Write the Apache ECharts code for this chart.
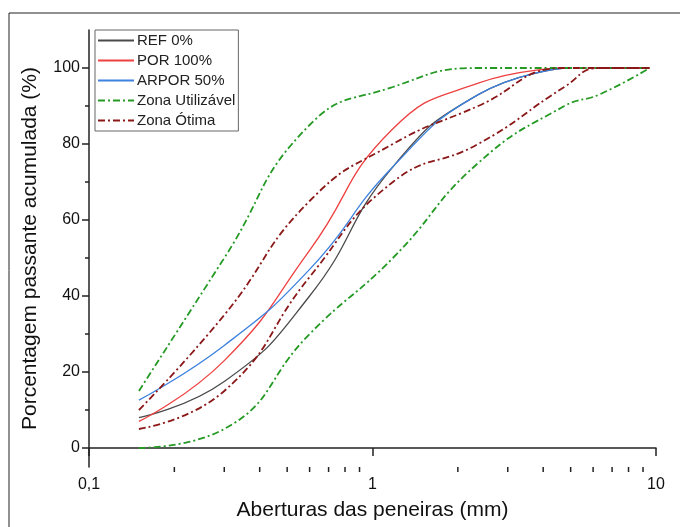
<!DOCTYPE html>
<html>
<head>
<meta charset="utf-8">
<script src="https://cdn.jsdelivr.net/npm/echarts@6/dist/echarts.min.js"></script>
<style>
  html, body { margin: 0; padding: 0; background: #fff; }
  #chart { width: 680px; height: 527px; }
</style>
</head>
<body>
<div id="chart"></div>
<script>
// aberturas das peneiras (mm)
const sieves = [0.15, 0.3, 0.6, 1.18, 2.36, 4.75];
const limitSieves = [0.15, 0.3, 0.6, 1.18, 2.36, 4.75, 6.3, 9.5];

// curvas dos agregados (% passante acumulada)
const ref0 = [8, 17.5, 40, 74, 93, 100];
const por100 = [7, 23, 52, 84, 96, 100];
const arpor50 = [12.6, 27, 47, 74, 93, 100];

// limites da norma
const utilSup = [15, 50, 85, 95, 100, 100, 100, 100];
const utilInf = [0, 5, 30, 50, 75, 90, 93, 100];
const otimaSup = [10, 35, 65, 80, 90, 100, 100, 100];
const otimaInf = [5, 15, 45, 70, 80, 95, 100, 100];

// marcas dos eixos
const yTicks = [0, 20, 40, 60, 80, 100];
const minorY = [10, 30, 50, 70, 90];
const minorX = [0.2, 0.3, 0.4, 0.5, 0.6, 0.7, 0.8, 0.9, 2, 3, 4, 5, 6, 7, 8, 9];

const pairs = (xs, ys) => xs.map((x, i) => [x, ys[i]]);

const chart = echarts.init(document.getElementById('chart'));

const font = 'Liberation Sans, Arial, sans-serif';
const dashDot = [7, 3, 2, 3];
const axisColor = '#222';

function curve(name, xs, ys, color, width, type) {
  return {
    name: name,
    type: 'line',
    data: pairs(xs, ys),
    smooth: 0.5,
    symbol: 'none',
    lineStyle: { color: color, width: width, type: type || 'solid' },
    itemStyle: { color: color },
    z: 3
  };
}

// pequenas marcas desenhadas pela escala dos eixos
function tickSeries(points, dx, dy) {
  return {
    type: 'custom',
    silent: true,
    clip: false,
    data: points,
    renderItem: (params, api) => {
      const p = api.coord([api.value(0), api.value(1)]);
      return {
        type: 'line',
        shape: { x1: p[0], y1: p[1], x2: p[0] + dx, y2: p[1] + dy },
        style: { stroke: axisColor, lineWidth: 1.5 }
      };
    },
    z: 5
  };
}

const option = {
  animation: false,
  backgroundColor: '#fff',
  textStyle: { fontFamily: font },
  graphic: [{
    type: 'rect',
    shape: { x: 9, y: 13, width: 700, height: 540 },
    style: { fill: 'none', stroke: '#222', lineWidth: 1 },
    silent: true
  }],
  grid: { left: 89, right: 24, top: 30, bottom: 60 },
  legend: {
    left: 95,
    top: 30,
    orient: 'vertical',
    itemWidth: 36,
    itemHeight: 12,
    itemGap: 5,
    padding: [3, 3, 3, 2],
    borderColor: '#666',
    borderWidth: 1,
    itemStyle: { opacity: 0 },
    textStyle: { fontSize: 15, color: '#222', padding: [0, 0, 0, -2] },
    data: ['REF 0%', 'POR 100%', 'ARPOR 50%', 'Zona Utilizável', 'Zona Ótima']
  },
  xAxis: {
    type: 'log',
    logBase: 10,
    min: 0.1,
    max: 10,
    name: 'Aberturas das peneiras (mm)',
    nameLocation: 'middle',
    nameGap: 33,
    nameTextStyle: { fontSize: 21, color: '#111' },
    axisLine: { lineStyle: { color: axisColor, width: 1.5 } },
    axisTick: { length: 8, lineStyle: { color: axisColor, width: 1.5 } },
    axisLabel: {
      fontSize: 16, color: '#111', margin: 10,
      formatter: v => String(v).replace('.', ',')
    },
    splitLine: { show: false }
  },
  yAxis: {
    type: 'value',
    min: -5,
    max: 110,
    name: 'Porcentagem passante acumulada (%)',
    nameLocation: 'middle',
    nameGap: 48,
    nameTextStyle: { fontSize: 21, color: '#111' },
    axisLine: { show: true, lineStyle: { color: axisColor, width: 1.5 } },
    axisTick: { show: true, length: 7, customValues: yTicks, lineStyle: { color: axisColor, width: 1.5 } },
    axisLabel: { fontSize: 16, color: '#111', margin: 9, customValues: yTicks },
    splitLine: { show: false }
  },
  series: [
    curve('REF 0%', sieves, ref0, '#4a4a4a', 1.3),
    curve('POR 100%', sieves, por100, '#ee4040', 1.3),
    curve('ARPOR 50%', sieves, arpor50, '#3c82de', 1.3),
    curve('Zona Utilizável', limitSieves, utilSup, '#249a24', 1.8, dashDot),
    curve('Zona Utilizável', limitSieves, utilInf, '#249a24', 1.8, dashDot),
    curve('Zona Ótima', limitSieves, otimaSup, '#8b1818', 1.8, dashDot),
    curve('Zona Ótima', limitSieves, otimaInf, '#8b1818', 1.8, dashDot),
    tickSeries(minorX.map(v => [v, -5]), 0, 5),
    tickSeries(minorY.map(v => [0.1, v]), -4, 0)
  ]
};

chart.setOption(option);
</script>
</body>
</html>
